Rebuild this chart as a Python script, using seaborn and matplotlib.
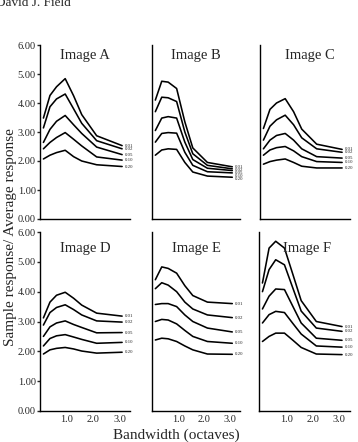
import matplotlib
matplotlib.use("Agg")
import matplotlib.pyplot as plt
import numpy as np
import pandas as pd
import seaborn as sns

# ---- data ----
bandwidth = [0.1, 0.35, 0.6, 0.93, 1.25, 1.56, 2.13, 3.1]
levels = ["0.01", "0.02", "0.05", "0.10", "0.20"]
images = ["Image A", "Image B", "Image C", "Image D", "Image E", "Image F"]

image_a = [
    [3.48, 4.26, 4.56, 4.84, 4.25, 3.60, 2.87, 2.53],
    [3.14, 3.87, 4.14, 4.31, 3.80, 3.30, 2.70, 2.42],
    [2.64, 3.09, 3.37, 3.57, 3.25, 2.95, 2.48, 2.22],
    [2.42, 2.64, 2.81, 2.98, 2.75, 2.52, 2.14, 2.03],
    [2.07, 2.20, 2.29, 2.37, 2.15, 2.00, 1.87, 1.81],
]
image_b = [
    [4.10, 4.75, 4.72, 4.50, 3.35, 2.45, 1.95, 1.80],
    [3.70, 4.20, 4.18, 4.05, 3.00, 2.25, 1.85, 1.73],
    [3.05, 3.48, 3.53, 3.48, 2.65, 2.05, 1.75, 1.67],
    [2.65, 2.95, 2.98, 2.96, 2.30, 1.85, 1.63, 1.59],
    [2.20, 2.38, 2.42, 2.40, 1.95, 1.62, 1.48, 1.44],
]
image_c = [
    [3.12, 3.78, 4.00, 4.15, 3.70, 3.10, 2.58, 2.40],
    [2.72, 3.20, 3.42, 3.58, 3.25, 2.80, 2.42, 2.30],
    [2.42, 2.72, 2.88, 2.95, 2.72, 2.42, 2.15, 2.10],
    [2.20, 2.38, 2.46, 2.50, 2.35, 2.15, 1.98, 1.95],
    [1.89, 1.98, 2.03, 2.07, 1.95, 1.82, 1.76, 1.76],
]
image_d = [
    [3.12, 3.65, 3.88, 3.98, 3.78, 3.55, 3.28, 3.18],
    [2.88, 3.30, 3.47, 3.56, 3.40, 3.22, 3.02, 2.98],
    [2.50, 2.82, 2.95, 3.02, 2.90, 2.80, 2.62, 2.63],
    [2.18, 2.43, 2.52, 2.56, 2.48, 2.40, 2.27, 2.30],
    [1.91, 2.05, 2.10, 2.13, 2.08, 2.01, 1.94, 1.97],
]
image_e = [
    [4.40, 4.83, 4.78, 4.62, 4.20, 3.87, 3.65, 3.60],
    [4.10, 4.30, 4.22, 4.00, 3.65, 3.42, 3.22, 3.13],
    [3.57, 3.60, 3.60, 3.50, 3.22, 3.00, 2.78, 2.65],
    [3.00, 3.07, 3.05, 2.92, 2.70, 2.50, 2.33, 2.27],
    [2.38, 2.44, 2.42, 2.33, 2.18, 2.05, 1.91, 1.90],
]
image_f = [
    [4.29, 5.46, 5.69, 5.46, 4.57, 3.70, 3.00, 2.83],
    [4.00, 4.74, 5.07, 4.90, 4.11, 3.35, 2.78, 2.67],
    [3.42, 3.85, 4.09, 4.07, 3.50, 2.95, 2.44, 2.37],
    [2.95, 3.23, 3.34, 3.30, 2.93, 2.58, 2.18, 2.14],
    [2.33, 2.50, 2.61, 2.61, 2.37, 2.13, 1.91, 1.89],
]
all_images = [image_a, image_b, image_c, image_d, image_e, image_f]

y_ticks = [0, 1, 2, 3, 4, 5, 6]
x_ticks = [1.0, 2.0, 3.0]

rows = []
for name, curves in zip(images, all_images):
    for lev, vals in zip(levels, curves):
        for b, v in zip(bandwidth, vals):
            rows.append({"image": name, "level": lev, "bandwidth": b, "response": v})
df = pd.DataFrame(rows)

# ---- style ----
sns.set_style("white")
plt.rcParams["font.family"] = ["Liberation Serif", "DejaVu Serif"]
plt.rcParams["axes.linewidth"] = 1.0

W, H = 358, 442
fig = plt.figure(figsize=(W / 100, H / 100), dpi=100)

# axes rectangles in pixels: (left, right, top, bottom)
rects = [
    (40, 130, 45, 219), (152, 240, 45, 219), (260, 350, 45, 219),
    (40, 130, 232, 411), (152, 240, 232, 411), (259, 350, 232, 411),
]
title_y = [0.94, 0.94, 0.94, 0.91, 0.91, 0.91]
title_x = [0.5, 0.5, 0.55, 0.5, 0.5, 0.53]

for i, (name, (l, r, t, b)) in enumerate(zip(images, rects)):
    ax = fig.add_axes([l / W, 1 - b / H, (r - l) / W, (b - t) / H])
    sub = df[df["image"] == name]
    sns.lineplot(data=sub, x="bandwidth", y="response", hue="level",
                 palette=["black"] * len(levels), legend=False,
                 linewidth=1.15, estimator=None, ax=ax)
    ax.set_xlim(-0.03, 3.4)
    ax.set_ylim(0, 6)
    ax.set_xlabel("")
    ax.set_ylabel("")
    for s in ["top", "right"]:
        ax.spines[s].set_visible(False)
    for s in ["left", "bottom"]:
        ax.spines[s].set_color("black")
    ax.text(title_x[i], title_y[i], name, transform=ax.transAxes,
            ha="center", va="center", fontsize=10.5)
    # end labels, kept a minimum distance apart
    prev = None
    for lev, vals in zip(levels, all_images[i]):
        ypos = vals[-1] if prev is None else min(vals[-1], prev - 0.105)
        prev = ypos
        ax.text(bandwidth[-1] + 0.1, ypos, lev, fontsize=3.5,
                ha="left", va="center", clip_on=False)
    if i % 3 == 0:
        ax.set_yticks(y_ticks)
        ax.set_yticklabels([f"{v:.2f}" for v in y_ticks])
        ax.tick_params(axis="y", length=2.5, width=1, direction="out",
                       labelsize=7.5, pad=0.5, left=True)
    else:
        ax.set_yticks([])
    if i >= 3:
        ax.set_xticks(x_ticks)
        ax.set_xticklabels([f"{v:.1f}" for v in x_ticks])
        ax.tick_params(axis="x", length=0, labelsize=7.5, pad=3)
    else:
        ax.set_xticks([])

fig.text(11 / W, 1 - 237 / H, "Sample response/ Average response",
         rotation=90, ha="center", va="center", fontsize=11)
fig.text(176 / W, 1 - 435 / H, "Bandwidth (octaves)",
         ha="center", va="center", fontsize=11)
fig.text(-4 / W, 1 - 6 / H, "David J. Field", ha="left", va="baseline",
         fontsize=9.5)

fig.savefig("out.png", dpi=100)
